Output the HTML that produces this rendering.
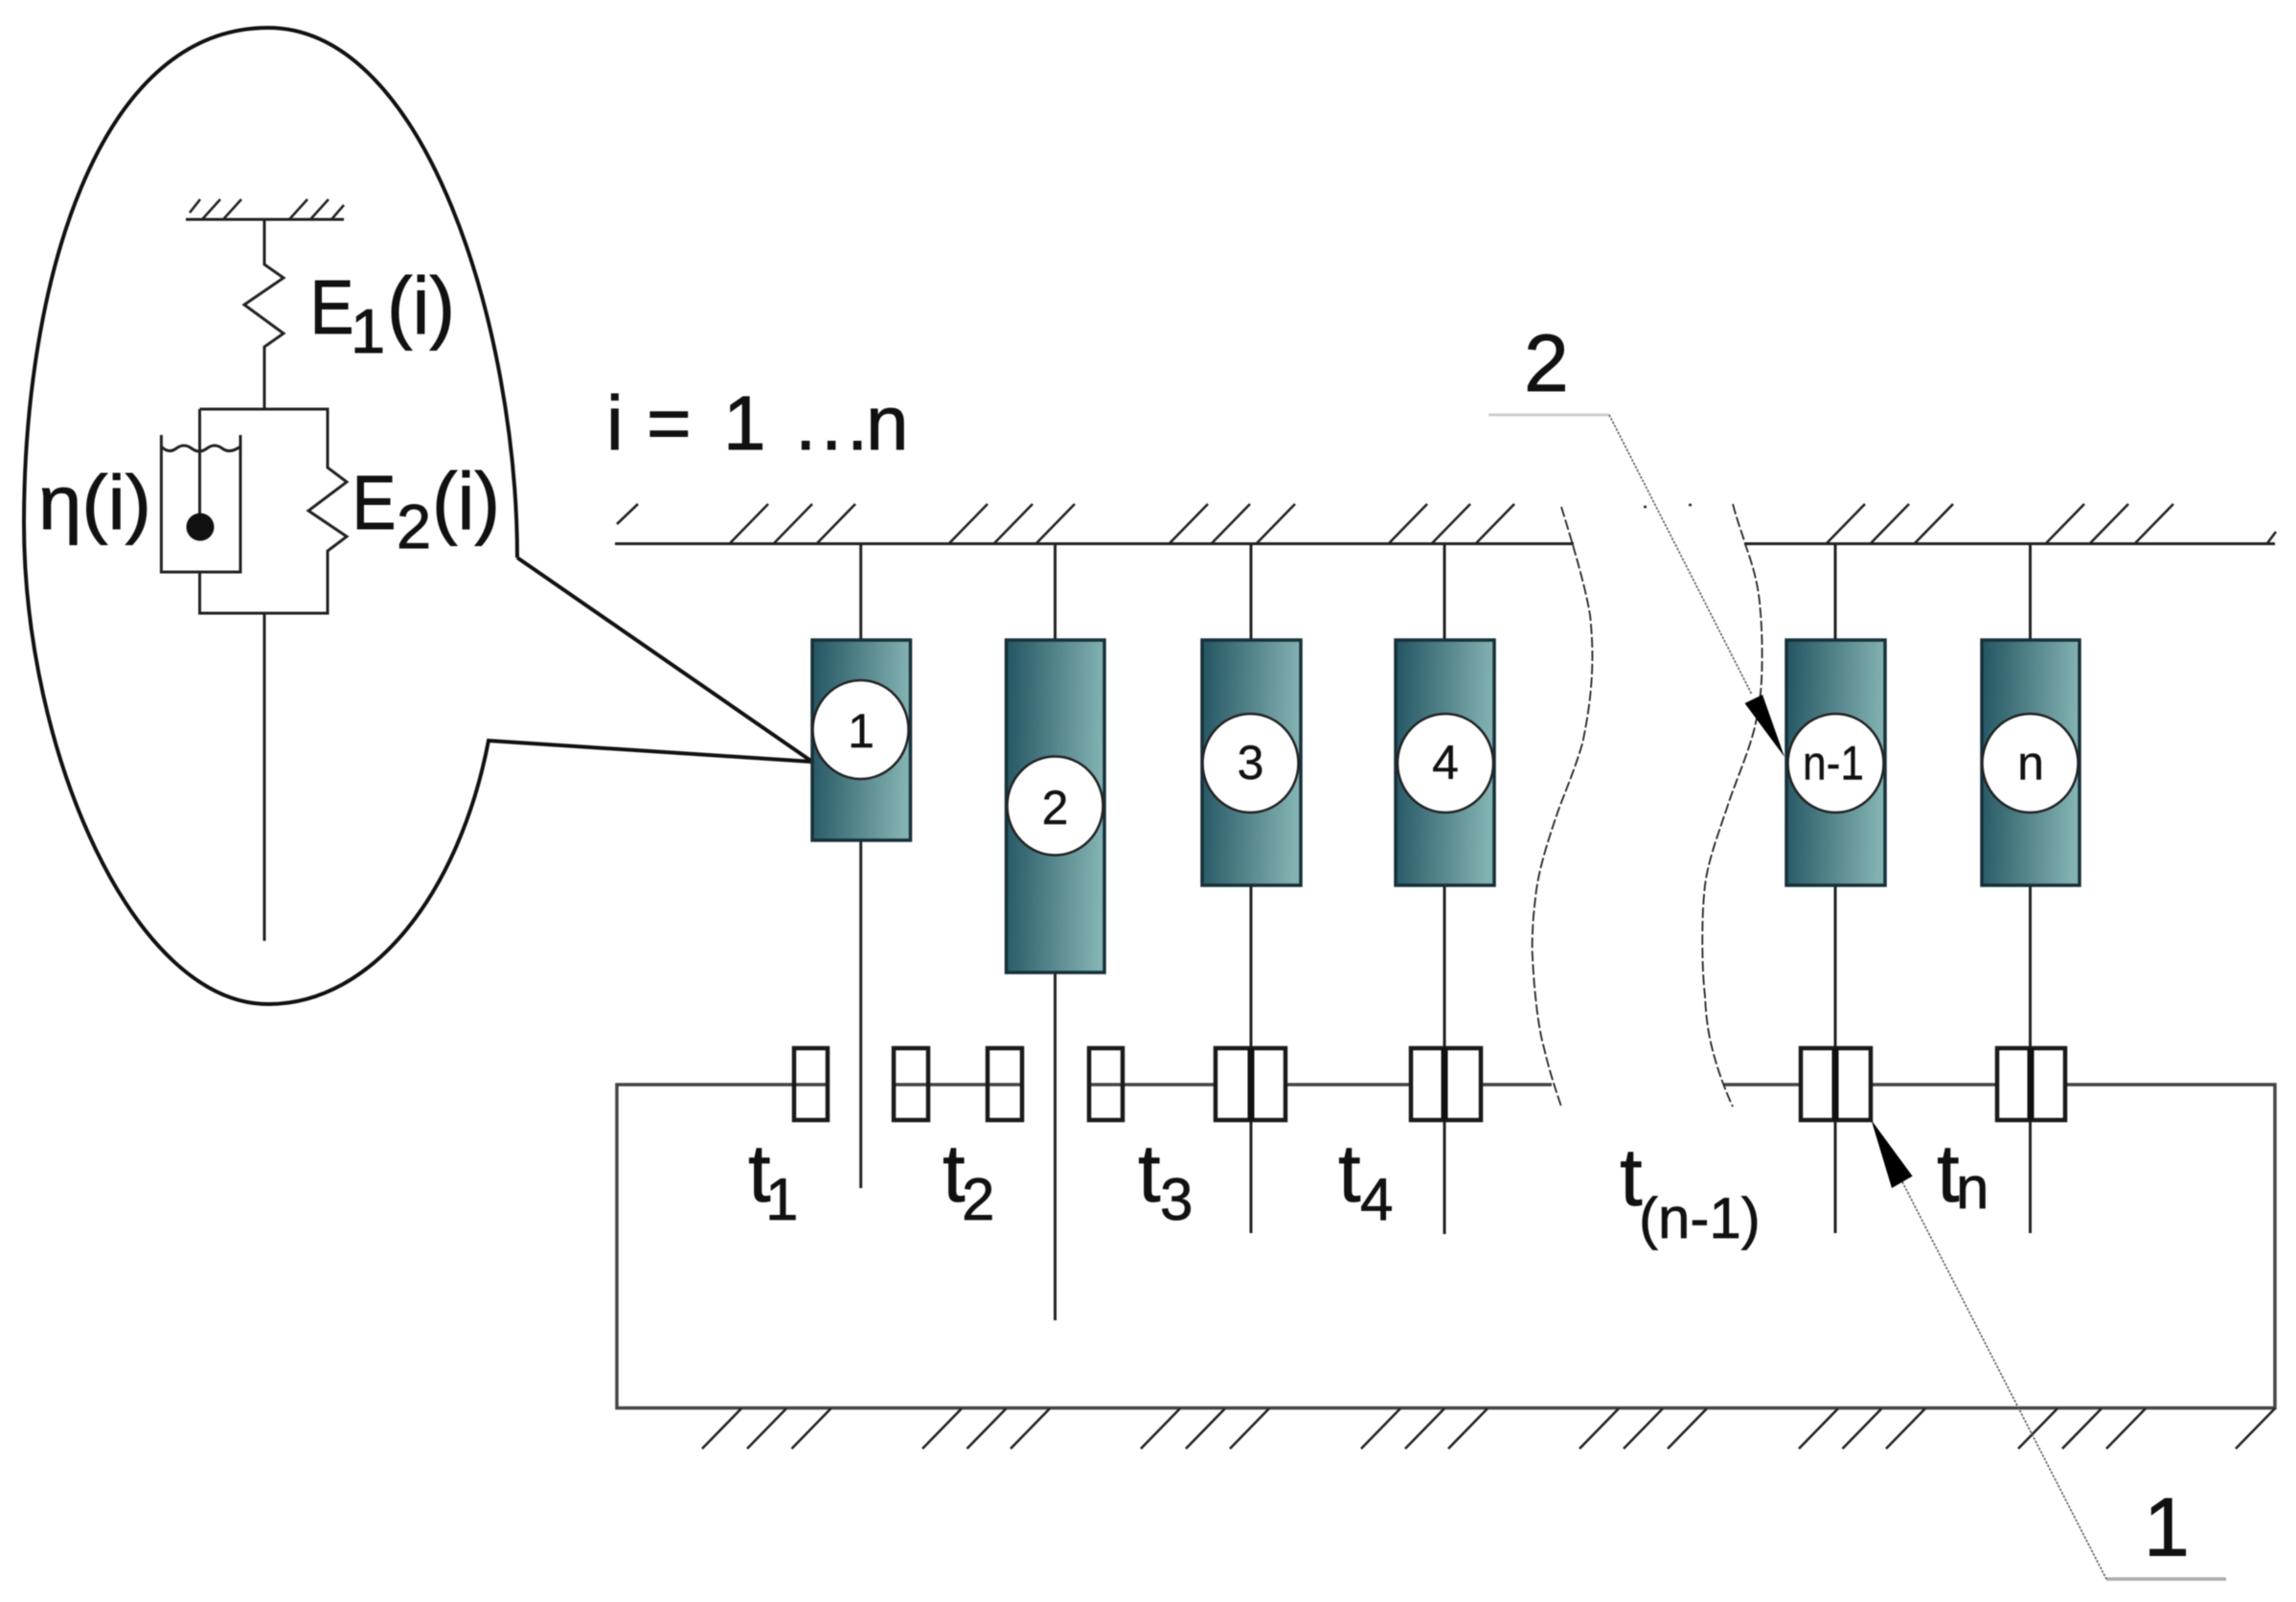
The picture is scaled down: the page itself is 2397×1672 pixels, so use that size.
<!DOCTYPE html>
<html><head><meta charset="utf-8"><style>
html,body{margin:0;padding:0;background:#fff}
svg{display:block}
text{font-family:"Liberation Sans",sans-serif;fill:#111;stroke:#111;stroke-width:.9px}
.t text{stroke-width:.7px}
.tt{stroke-width:2.4px}
.s{fill:none;stroke:#222;stroke-width:3}
.h{fill:none;stroke:#222;stroke-width:2.6}
.w{fill:none;stroke:#444;stroke-width:3.5}
.r{fill:none;stroke:#1a1a1a;stroke-width:4.5}
.b{fill:url(#g);stroke:#17303a;stroke-width:3.5}
.c{fill:#fff;stroke:#222;stroke-width:2.5}
.n{font-size:50px;text-anchor:middle;stroke-width:.4px}
.d{fill:none;stroke:#222;stroke-width:1.8;stroke-dasharray:11 3}
.l{fill:none;stroke:#555;stroke-width:1.6;stroke-dasharray:2.5 1.5}
</style></head><body>
<svg width="2397" height="1672" viewBox="0 0 2397 1672" xmlns="http://www.w3.org/2000/svg">
<defs><linearGradient id="g" x1="0" y1="0" x2="1" y2="0.08"><stop offset="0" stop-color="#235562"/><stop offset="1" stop-color="#83b2b2"/></linearGradient></defs>
<rect width="2397" height="1672" fill="#fff"/>
<g style="filter:blur(.6px)">

<!-- callout -->
<path d="M540,582 C540,345 445,29 280,29 C100,29 25,300 25,546 C25,785 140,1048 280,1048 C390,1048 480,930 510,773 L848,795 L540,582" fill="none" stroke="#111" stroke-width="4"/>
<path class="s" d="M194,229H359"/>
<path class="h" d="M198,222L209,208M211,229L230,208M233,229L252,208M302,229L321,208M324,229L343,208M346,229L359,214"/>
<path class="s" d="M276,229V276L296,290L255,318L296,348L276,362V427M208.500,427H342V488L362,503L322,533L362,560L342,575V640H208.500V597M208.500,427V550M276,640V982"/>
<path class="s" d="M168.400,454V597H251V454M168.400,466Q176,474 184,468T200,468T216,468T232,468T251,466"/>
<circle cx="209" cy="550" r="14.500" fill="#111"/>
<text x="323.500" y="348" font-size="80" textLength="46" lengthAdjust="spacingAndGlyphs">E</text>
<text x="366" y="368" font-size="65">1</text>
<text x="404" y="348" font-size="84" textLength="71" lengthAdjust="spacingAndGlyphs">(i)</text>
<text x="40" y="552" font-size="80" textLength="118" lengthAdjust="spacingAndGlyphs">η(i)</text>
<text x="367.500" y="552" font-size="80" textLength="46" lengthAdjust="spacingAndGlyphs">E</text>
<text x="414" y="572" font-size="65">2</text>
<text x="451" y="552" font-size="84" textLength="71" lengthAdjust="spacingAndGlyphs">(i)</text>

<!-- top ground -->
<text x="633 670 675 700 755 780 830 857 884 904" y="469" font-size="80">i = 1 ...n</text>
<path class="s" d="M642,567.500H1643M1821,567.500H2375"/>
<path class="h" d="M644,547L666,526M762,567L802,526M808,567L848,526M853,567L893,526M991,567L1031,526M1038,567L1078,526M1082,567L1122,526M1221,567L1261,526M1265,567L1305,526M1312,567L1352,526M1450,567L1490,526M1495,567L1535,526M1541,567L1581,526M1907,567L1947,526M1953,567L1993,526M1999,567L2039,526M2136,567L2176,526M2182,567L2222,526M2229,567L2269,526M2367,567L2376,555M1716,529h3M1763,527h3"/>

<!-- stems -->
<path class="s" d="M898.700,567V1240M1101.500,567V1378M1306,567V1287M1508,567V1288M1916,567V1287M2119.500,567V1287"/>

<!-- blocks -->
<rect class="b" x="848" y="668" width="102.500" height="209"/>
<rect class="b" x="1050.500" y="668" width="102.500" height="347"/>
<rect class="b" x="1255" y="668" width="103" height="256"/>
<rect class="b" x="1457" y="668" width="103" height="256"/>
<rect class="b" x="1865" y="668" width="103" height="256"/>
<rect class="b" x="2069" y="668" width="102" height="256"/>
<ellipse class="c" cx="898.500" cy="761.500" rx="50" ry="51.500"/>
<ellipse class="c" cx="1101.500" cy="841" rx="50" ry="51.500"/>
<ellipse class="c" cx="1305.500" cy="796.500" rx="50" ry="51.500"/>
<ellipse class="c" cx="1509" cy="796.500" rx="50" ry="51.500"/>
<ellipse class="c" cx="1916.500" cy="796.500" rx="50" ry="51.500"/>
<ellipse class="c" cx="2119.500" cy="796.500" rx="50" ry="51.500"/>
<text class="n" x="899" y="780">1</text>
<text class="n" x="1101.500" y="860">2</text>
<text class="n" x="1305.500" y="813">3</text>
<text class="n" x="1509" y="813">4</text>
<text class="n" x="1914" y="813.500" textLength="64" lengthAdjust="spacingAndGlyphs">n-1</text>
<text class="n" x="2120" y="813.500">n</text>

<!-- bottom frame -->
<path class="w" d="M829,1132H644V1469.500H2375V1132H2156"/>
<path class="h" d="M774,1470L733,1512M821,1470L780,1512M867.500,1470L826.500,1512M1004,1470L963,1512M1050.500,1470L1009.500,1512M1096,1470L1055,1512M1232,1470L1191,1512M1279,1470L1238,1512M1325,1470L1284,1512M1462,1470L1421,1512M1508,1470L1467,1512M1553,1470L1512,1512M1690,1470L1649,1512M1736,1470L1695,1512M1782,1470L1741,1512M1919,1470L1878,1512M1964.500,1470L1923.500,1512M2010,1470L1969,1512M2148,1470L2107,1512M2194,1470L2153,1512M2240,1470L2199,1512M2375,1470L2334,1512"/>

<!-- sliders -->
<path class="w" d="M829,1132H864M933,1132H1067M1137,1132H1269M1342,1132H1473M1546,1132H1620M1800,1132H1880M1953,1132H2085"/>
<rect class="r" x="829" y="1094" width="35" height="75"/>
<rect class="r" x="933" y="1094" width="36" height="75"/>
<rect class="r" x="1031" y="1094" width="36" height="75"/>
<rect class="r" x="1137" y="1094" width="35" height="75"/>
<rect class="r" x="1269" y="1094" width="73" height="75"/>
<rect class="r" x="1473" y="1094" width="73" height="75"/>
<rect class="r" x="1880" y="1094" width="73" height="75"/>
<rect class="r" x="2085" y="1094" width="71" height="75"/>
<path d="M1306,1094V1169M1508,1094V1169M1916,1094V1169M2120,1094V1169" fill="none" stroke="#111" stroke-width="7"/>

<!-- break lines -->
<path class="d" d="M1630,529C1638,555 1655,610 1660,642C1664,680 1664,720 1652,776C1642,810 1630,835 1623,857C1612,890 1605,915 1603,937C1600,960 1599,985 1600,1000C1601,1020 1602,1030 1603,1040C1605,1060 1608,1080 1611.500,1092C1618,1120 1625,1140 1630,1155"/>
<path class="d" d="M1809,526C1814,545 1820,560 1823,571C1830,590 1836,612 1837.500,634C1840,660 1840,690 1839,710C1838,730 1835,745 1832,759C1824,790 1812,815 1803,843C1792,875 1783,900 1780,924C1777,950 1777,980 1777.500,1000C1778,1020 1779,1030 1780,1040C1781,1060 1783,1075 1786,1088C1792,1115 1802,1140 1809,1155"/>

<!-- leaders -->
<path d="M1554,433H1680" stroke="#ccc" stroke-width="3" fill="none"/>
<path class="l" d="M1680,433L1829,725"/>
<polygon points="1863,790 1821.500,734 1840,725" fill="#000"/>
<text x="1591" y="408" font-size="84">2</text>
<path d="M2199,1648H2324" stroke="#aaa" stroke-width="3.500" fill="none"/>
<path class="l" d="M1986,1233.500L2199,1648"/>
<polygon points="1953.600,1169 1996.600,1227.500 1975,1240" fill="#000"/>
<text x="2238" y="1623.500" font-size="86">1</text>

<!-- t labels -->
<g class="t">
<text class="tt" x="781" y="1254" font-size="85">t</text><text x="799" y="1273" font-size="62">1</text>
<text class="tt" x="984" y="1254" font-size="85">t</text><text x="1004" y="1273" font-size="62">2</text>
<text class="tt" x="1188" y="1254" font-size="85">t</text><text x="1211" y="1273" font-size="62">3</text>
<text class="tt" x="1397" y="1254" font-size="85">t</text><text x="1420" y="1273" font-size="62">4</text>
<text class="tt" x="1691" y="1258" font-size="85">t</text><text x="1711" y="1292" font-size="60">(n-1)</text>
<text class="tt" x="2022" y="1254" font-size="85">t</text><text x="2042" y="1261" font-size="62">n</text>
</g>
</g>
</svg>
</body></html>
